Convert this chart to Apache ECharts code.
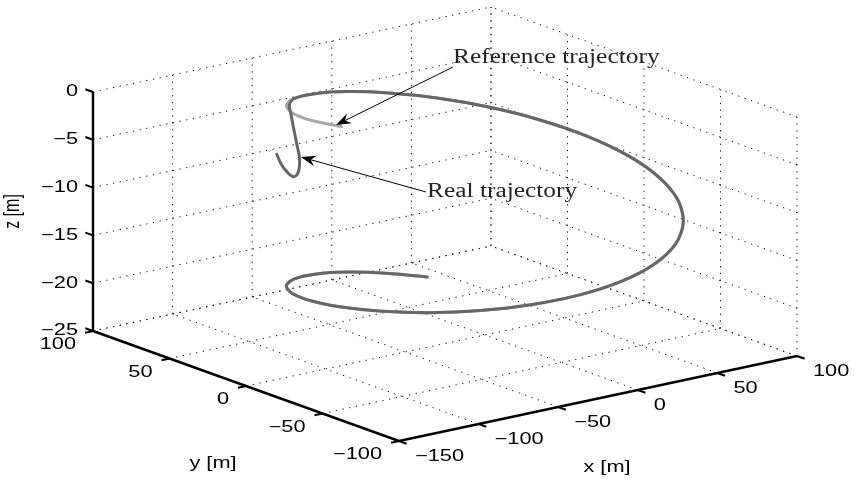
<!DOCTYPE html>
<html><head><meta charset="utf-8">
<script src="https://cdn.jsdelivr.net/npm/echarts@6/dist/echarts.min.js"></script>
<style>html,body{margin:0;padding:0;background:#fff}#c{width:855px;height:479px}</style>
</head><body><div id="c"></div>
<script>
// ---------- data ----------
const xTicks = [-150, -100, -50, 0, 50, 100];
const yTicks = [-100, -50, 0, 50, 100];
const zTicks = [-25, -20, -15, -10, -5, 0];
const axisTitles = { x: 'x [m]', y: 'y [m]', z: 'z [m]' };
const annotationTexts = ['Reference trajectory', 'Real trajectory'];

const refX = [-90,-86.9,-77.9,-63.6,-45,-23.3,0,23.3,45,63.6,77.9,86.9,90,86.9,77.9,63.6,45,23.3,0,-23.3,-45,-63.6,-77.9,-86.9,-90,-86.9,-77.9,-63.6,-45,-23.3,0,23.3,40.9];
const refY = [0,23.3,45,63.6,77.9,86.9,90,86.9,77.9,63.6,45,23.3,0,-23.3,-45,-63.6,-77.9,-86.9,-90,-86.9,-77.9,-63.6,-45,-23.3,0,23.3,45,63.6,77.9,86.9,90,86.9,80.2];
const refZ = [0,-0.79,-1.57,-2.36,-3.15,-3.93,-4.72,-5.51,-6.29,-7.08,-7.87,-8.65,-9.44,-10.23,-11.01,-11.80,-12.59,-13.37,-14.16,-14.95,-15.73,-16.52,-17.31,-18.09,-18.88,-19.67,-20.45,-21.24,-22.03,-22.81,-23.60,-24.39,-25.0];

const realX = [-63.4,-60.3,-56.2,-53.0,-50.5,-49.2,-49.2,-50.9,-53.0,-54.6,-55.5,-45,-23.3,0,23.3,45,63.6,77.9,86.9,90,86.9,77.9,63.6,45,23.3,0,-23.3,-45,-63.6,-77.9,-86.9,-90,-86.9,-77.9,-63.6,-45,-23.3,0,23.3,40.9];
const realY = [70,70,70,70,70,70,70,70,70,70,70,77.9,86.9,90,86.9,77.9,63.6,45,23.3,0,-23.3,-45,-63.6,-77.9,-86.9,-90,-86.9,-77.9,-63.6,-45,-23.3,0,23.3,45,63.6,77.9,86.9,90,86.9,80.2];
const realZ = [-7.87,-9.10,-10.11,-10.59,-10.42,-9.68,-8.63,-7.17,-5.36,-3.89,-2.99,-3.15,-3.93,-4.72,-5.51,-6.29,-7.08,-7.87,-8.65,-9.44,-10.23,-11.01,-11.80,-12.59,-13.37,-14.16,-14.95,-15.73,-16.52,-17.31,-18.09,-18.88,-19.67,-20.45,-21.24,-22.03,-22.81,-23.60,-24.39,-25.0];

// ---------- view (orthographic projection, az -37.5 / el 30 look) ----------
const P0 = [484.8, 96];
const EX = [1.592, -0.34], EY = [-1.53, -0.55], EZ = [0, -9.56];
function proj(x, y, z) {
  return [P0[0] + EX[0]*x + EY[0]*y + EZ[0]*z, P0[1] + EX[1]*x + EY[1]*y + EZ[1]*z];
}
const XR = [xTicks[0], xTicks[xTicks.length-1]];
const YR = [yTicks[0], yTicks[yTicks.length-1]];
const ZR = [zTicks[0], zTicks[zTicks.length-1]];
const fmt = v => v < 0 ? '\u2212' + Math.abs(v) : String(v);
const SANS = '16px "Liberation Sans", Arial, sans-serif';
const SERIF = '20px "Liberation Serif", "Times New Roman", serif';
const SX = 1.36;

function seg(api, a, b, style) {
  const p = api.coord(proj(a[0],a[1],a[2])), q = api.coord(proj(b[0],b[1],b[2]));
  return { type: 'line', shape: { x1: p[0], y1: p[1], x2: q[0], y2: q[1] }, style: style };
}

const dotted = { stroke: '#111', lineWidth: 1, lineDash: [1.3, 5.5] };
const solid = { stroke: '#000', lineWidth: 2.4 };

function renderGrid(params, api) {
  const ch = [];
  xTicks.slice(1).forEach(x => ch.push(seg(api, [x, YR[1], ZR[0]], [x, YR[1], ZR[1]], dotted)));
  zTicks.forEach(z => ch.push(seg(api, [XR[0], YR[1], z], [XR[1], YR[1], z], dotted)));
  yTicks.forEach(y => ch.push(seg(api, [XR[1], y, ZR[0]], [XR[1], y, ZR[1]], dotted)));
  zTicks.forEach(z => ch.push(seg(api, [XR[1], YR[0], z], [XR[1], YR[1], z], dotted)));
  xTicks.slice(1).forEach(x => ch.push(seg(api, [x, YR[0], ZR[0]], [x, YR[1], ZR[0]], dotted)));
  yTicks.slice(1).forEach(y => ch.push(seg(api, [XR[0], y, ZR[0]], [XR[1], y, ZR[0]], dotted)));
  return { type: 'group', children: ch };
}

function txt(api, pt, dx, dy, text, align, extra) {
  const p = api.coord(pt);
  return Object.assign({
    type: 'text', x: p[0] + dx, y: p[1] + dy, scaleX: SX,
    style: { text: text, x: 0, y: 0, font: SANS, fill: '#000', align: align, verticalAlign: 'middle' }
  }, extra || {});
}

function renderAxes(params, api) {
  const ch = [];
  ch.push(seg(api, [XR[0], YR[1], ZR[0]], [XR[0], YR[1], ZR[1]], solid));
  ch.push(seg(api, [XR[0], YR[0], ZR[0]], [XR[0], YR[1], ZR[0]], solid));
  ch.push(seg(api, [XR[0], YR[0], ZR[0]], [XR[1], YR[0], ZR[0]], solid));
  const tk = { stroke: '#000', lineWidth: 2 };
  zTicks.forEach(z => {
    ch.push(seg(api, [XR[0], YR[1], z], [XR[0], YR[1] + 5, z], tk));
    ch.push(txt(api, proj(XR[0], YR[1], z), -15, 0, fmt(z), 'right'));
  });
  yTicks.forEach(y => {
    ch.push(seg(api, [XR[0], y, ZR[0]], [XR[0] - 5, y, ZR[0]], tk));
    ch.push(txt(api, proj(XR[0], y, ZR[0]), -17, 14, fmt(y), 'right'));
  });
  xTicks.forEach(x => {
    ch.push(seg(api, [x, YR[0], ZR[0]], [x, YR[0] - 5, ZR[0]], tk));
    ch.push(txt(api, proj(x, YR[0], ZR[0]), 16, 16, fmt(x), 'left'));
  });
  ch.push(txt(api, proj(XR[0], YR[1], (ZR[0]+ZR[1])/2), -80, 0, axisTitles.z, 'center',
    { rotation: Math.PI/2, scaleX: 1, scaleY: SX }));
  ch.push(txt(api, proj(XR[0], (YR[0]+YR[1])/2, ZR[0]), -33, 78, axisTitles.y, 'center'));
  ch.push(txt(api, proj((XR[0]+XR[1])/2, YR[0], ZR[0]), 9, 69, axisTitles.x, 'center'));
  return { type: 'group', children: ch };
}

function curveRenderer(xs, ys, zs, color) {
  return function (params, api) {
    const pts = xs.map((x, i) => api.coord(proj(x, ys[i], zs[i])));
    return { type: 'polyline', shape: { points: pts, smooth: 0.3 },
      style: { stroke: color, lineWidth: 3, fill: null, lineJoin: 'round', lineCap: 'round' } };
  };
}

function arrowEls(tail, tip, label) {
  const dx = tail[0] - tip[0], dy = tail[1] - tip[1];
  const L = Math.hypot(dx, dy), ux = dx / L, uy = dy / L, nx = -uy, ny = ux;
  const hl = 15, hw = 5.5, notch = 10;
  return [
    { type: 'line', shape: { x1: tail[0], y1: tail[1], x2: tip[0] + ux*notch, y2: tip[1] + uy*notch },
      style: { stroke: '#000', lineWidth: 1 } },
    { type: 'polygon', shape: { points: [
        [tip[0], tip[1]],
        [tip[0] + ux*hl + nx*hw, tip[1] + uy*hl + ny*hw],
        [tip[0] + ux*notch, tip[1] + uy*notch],
        [tip[0] + ux*hl - nx*hw, tip[1] + uy*hl - ny*hw]] },
      style: { fill: '#000' } },
    { type: 'text', x: label[0], y: label[1], scaleX: 1.27,
      style: { text: label[2], font: SERIF, fill: '#222', align: 'left', verticalAlign: 'middle' } }
  ];
}

const chart = echarts.init(document.getElementById('c'), null, { renderer: 'canvas' });
chart.setOption({
  backgroundColor: '#fff',
  animation: false,
  grid: { left: 0, right: 0, top: 0, bottom: 0 },
  xAxis: { type: 'value', min: 0, max: 855, show: false },
  yAxis: { type: 'value', min: 0, max: 479, inverse: true, show: false },
  series: [
    { type: 'custom', silent: true, data: [[0, 0]], renderItem: renderGrid, z: 1 },
    { type: 'custom', silent: true, data: [[0, 0]], renderItem: renderAxes, z: 2 },
    { type: 'custom', silent: true, data: [[0, 0]], renderItem: curveRenderer(refX, refY, refZ, '#a8a8a8'), z: 3 },
    { type: 'custom', silent: true, data: [[0, 0]], renderItem: curveRenderer(realX, realY, realZ, '#666666'), z: 4 }
  ],
  graphic: [].concat(
    arrowEls([453, 67], [336, 125], [453, 58, annotationTexts[0]]),
    arrowEls([426, 192], [301, 157], [427, 192, annotationTexts[1]])
  ).map(e => Object.assign({ z: 10 }, e))
});
</script>
</body></html>
